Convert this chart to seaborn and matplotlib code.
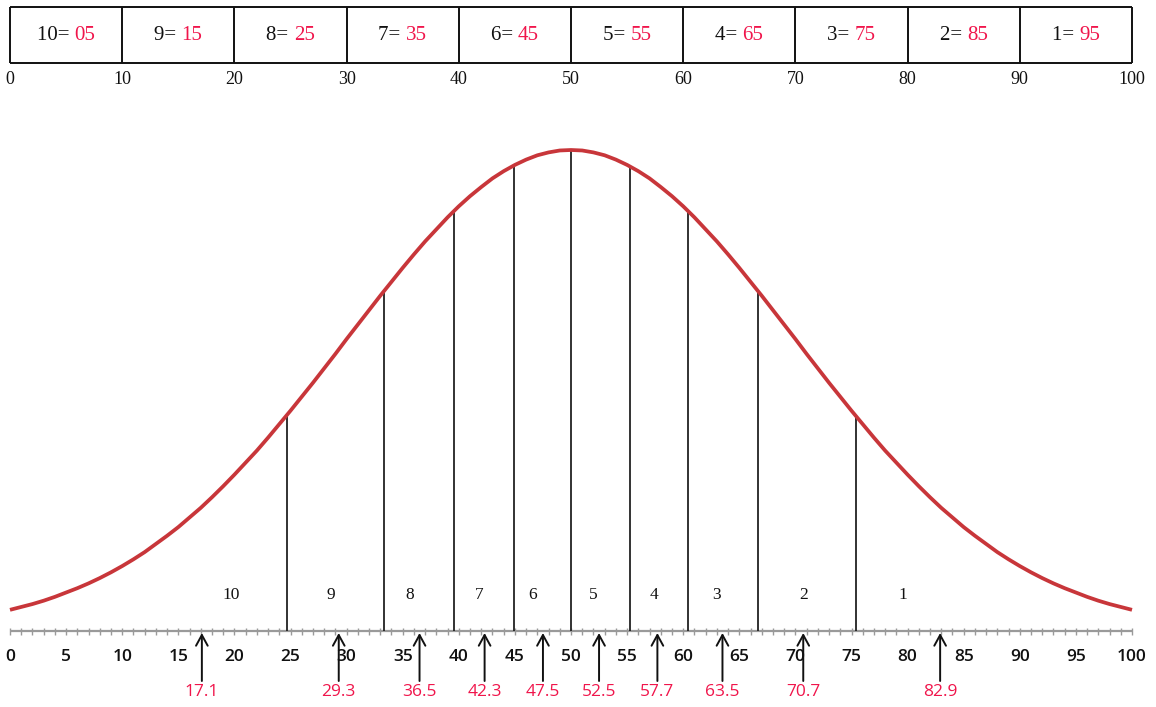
import numpy as np
import pandas as pd
import matplotlib
matplotlib.use("Agg")
import matplotlib.pyplot as plt
import seaborn as sns
from matplotlib.transforms import offset_copy

# ---------------- data ----------------
curve_x = list(range(0, 101, 1))
curve_y = [0.044, 0.050, 0.056, 0.063, 0.071, 0.080, 0.089, 0.099, 0.110, 0.122,
           0.135, 0.149, 0.164, 0.181, 0.198, 0.216, 0.236, 0.256, 0.278, 0.301,
           0.325, 0.350, 0.375, 0.402, 0.430, 0.458, 0.487, 0.516, 0.546, 0.576,
           0.607, 0.637, 0.667, 0.697, 0.726, 0.755, 0.783, 0.810, 0.835, 0.860,
           0.883, 0.904, 0.923, 0.941, 0.956, 0.969, 0.980, 0.989, 0.995, 0.999,
           1.000,
           0.999, 0.995, 0.989, 0.980, 0.969, 0.956, 0.941, 0.923, 0.904, 0.883,
           0.860, 0.835, 0.810, 0.783, 0.755, 0.726, 0.697, 0.667, 0.637, 0.607,
           0.576, 0.546, 0.516, 0.487, 0.458, 0.430, 0.402, 0.375, 0.350, 0.325,
           0.301, 0.278, 0.256, 0.236, 0.216, 0.198, 0.181, 0.164, 0.149, 0.135,
           0.122, 0.110, 0.099, 0.089, 0.080, 0.071, 0.063, 0.056, 0.050, 0.044]

boundary_x = [24.7, 33.3, 39.6, 44.9, 50.0, 55.3, 60.4, 66.7, 75.4]
boundary_h = [0.449, 0.706, 0.873, 0.968, 1.000, 0.965, 0.873, 0.706, 0.446]

section_labels = ["10", "9", "8", "7", "6", "5", "4", "3", "2", "1"]
section_label_x = [19.7, 28.6, 35.6, 41.8, 46.6, 52.0, 57.4, 63.0, 70.7, 79.6]

arrow_values = [17.1, 29.3, 36.5, 42.3, 47.5, 52.5, 57.7, 63.5, 70.7, 82.9]

box_edges = [0, 10, 20, 30, 40, 50, 60, 70, 80, 90, 100]
box_ranks = ["10", "9", "8", "7", "6", "5", "4", "3", "2", "1"]
box_scores = ["05", "15", "25", "35", "45", "55", "65", "75", "85", "95"]

axis_ticks = list(range(0, 101, 5))

# ---------------- style ----------------
sns.set_theme(style="white")
plt.rcParams["font.family"] = ["DejaVu Sans"]
SERIF = "Liberation Serif"
SANS = "Open Sans"
RED = "#F0154B"
CURVE = "#C8363A"

W, H = 1156, 707
fig = plt.figure(figsize=(W / 100, H / 100), dpi=100)
ax = fig.add_axes([0, 0, 1, 1])
ax.axis("off")

px_per_unit = (1132 - 10) / 100.0
ax.set_xlim(-10 / px_per_unit, 100 + (W - 1132) / px_per_unit)
y_axis_px, peak_px = 631, 150
py = float(y_axis_px - peak_px)
ax.set_ylim(-(H - y_axis_px) / py, 1 + peak_px / py)

def ypx(p):
    return (y_axis_px - p) / py

# curve
df = pd.DataFrame({"x": curve_x, "y": curve_y})
sns.lineplot(data=df, x="x", y="y", ax=ax, color=CURVE, linewidth=2.7,
             solid_capstyle="butt", solid_joinstyle="round", zorder=3)
ax.set_xlabel("")
ax.set_ylabel("")

# boundary lines
ax.vlines(boundary_x, 0, boundary_h, color="#222222", linewidth=1.3, zorder=2)

# section numbers
for lx, lab in zip(section_label_x, section_labels):
    ax.text(lx, ypx(595), lab, ha="center", va="center", fontsize=12.5,
            family=SERIF, color="#111111")

# bottom axis
ax.hlines(0, 0, 100, color="#9a9a9a", linewidth=1.6, zorder=1)
ax.vlines(np.arange(0, 101, 1), ypx(635), ypx(627.5), color="#9a9a9a", linewidth=1.0, zorder=1)
for t in axis_ticks:
    ax.text(t, ypx(657), str(t), ha="center", va="center", fontsize=12.5,
            family=SANS, color="#111111", fontweight="semibold")

# arrows and red labels
for v in arrow_values:
    ax.annotate("", xy=(v, ypx(633)), xytext=(v, ypx(681)),
                arrowprops=dict(arrowstyle="->,head_length=0.55,head_width=0.3",
                                color="#111111", lw=1.4, mutation_scale=14,
                                shrinkA=0, shrinkB=0))
    ax.text(v, ypx(692), f"{v:.1f}", ha="center", va="center", fontsize=12.5,
            family=SANS, color=RED)

# top box
y_top, y_bot = ypx(7), ypx(63)
ax.hlines([y_top, y_bot], 0, 100, color="#111111", linewidth=1.4)
ax.vlines(box_edges, y_bot, y_top, color="#111111", linewidth=1.4)
for e in box_edges:
    ax.text(e, ypx(79), str(e), ha="center", va="center", fontsize=13,
            family=SERIF, color="#111111")

fig.canvas.draw()
renderer = fig.canvas.get_renderer()
for i, (rk, sc) in enumerate(zip(box_ranks, box_scores)):
    cx = (box_edges[i] + box_edges[i + 1]) / 2
    cy = ypx(35)
    s1 = f"{rk}= "
    tmp1 = ax.text(0, 0, s1, fontsize=15, family=SERIF)
    tmp2 = ax.text(0, 0, sc, fontsize=15, family=SERIF)
    w1 = tmp1.get_window_extent(renderer).width
    w2 = tmp2.get_window_extent(renderer).width
    tmp1.remove(); tmp2.remove()
    total = w1 + w2
    ax.text(cx, cy, s1, ha="left", va="center", fontsize=15, family=SERIF,
            color="#111111",
            transform=offset_copy(ax.transData, fig, x=-total / 2, y=0, units="dots"))
    ax.text(cx, cy, sc, ha="left", va="center", fontsize=15, family=SERIF,
            color=RED,
            transform=offset_copy(ax.transData, fig, x=-total / 2 + w1, y=0, units="dots"))

fig.savefig("out.png", dpi=100, facecolor="white")
